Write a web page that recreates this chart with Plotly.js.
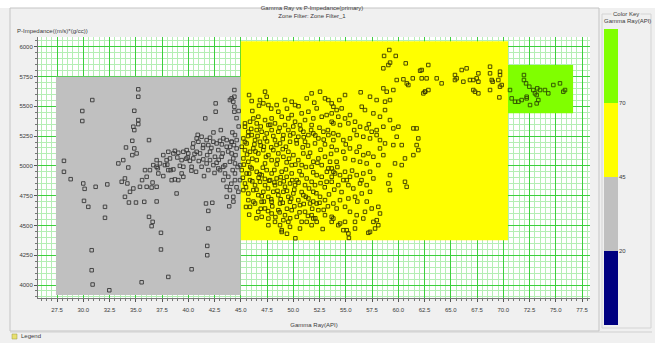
<!DOCTYPE html>
<html>
<head>
<meta charset="utf-8">
<script src="https://cdn.plot.ly/plotly-3.0.1.min.js"></script>
<style>
  html, body { margin: 0; padding: 0; background: #f0f0f0; }
  #chart { width: 655px; height: 343px; }
</style>
</head>
<body>
<div id="chart"></div>
<script>
// Crossplot: Gamma Ray (API) vs P-Impedance, points grouped by Gamma Ray zone.

// [Gamma Ray, P-Impedance] samples, 20-45 API zone
const grayZonePts = [
  [35.24,5642],[35.24,5580],[30.86,5552],[29.91,5460],[29.91,5376],[34.86,5462],[35.24,5384],[35.24,5350],
  [34.77,5328],[34.86,5300],[41.62,5398],[42.61,5524],[42.61,5454],[44.39,5636],[44.39,5580],[43.97,5552],
  [44.39,5496],[44.39,5454],[36.26,5216],[34.67,5210],[34.86,5146],[34.67,5090],[34.07,5154],[33.81,5048],
  [33.34,5020],[34.29,4986],[28.16,5042],[28.16,4950],[28.80,4888],[30.00,4852],[30.13,4807],[31.18,4824],
  [32.29,4844],[30.07,4706],[30.48,4656],[32.07,4656],[32.07,4564],[30.80,4292],[30.80,4124],[30.89,4004],
  [32.48,3956],[35.56,4023],[38.10,4068],[40.32,4132],[41.81,4250],[41.81,4328],[41.91,4474],[41.91,4622],
  [41.69,4684],[42.29,4690],[37.40,4438],[37.40,4298],[36.26,4572],[36.61,4530],[36.51,4494],[33.97,4894],
  [33.66,4866],[34.20,4852],[34.45,4782],[33.97,4740],[34.35,4692],[35.02,4692],[35.81,4698],[36.99,4701],
  [34.77,4810],[35.40,4824],[36.04,4824],[36.51,4818],[36.99,4824],[35.88,4964],[36.04,4908],[36.67,5006],
  [36.99,4992],[37.31,5020],[37.78,5006],[37.15,4936],[37.62,4914],[38.10,4964],[38.32,4964],[38.58,4970],
  [38.42,4880],[38.73,4886],[39.05,4880],[38.89,4768],[39.37,4936],[39.53,4908],[39.53,4992],[39.37,5048],
  [38.96,5070],[38.73,5126],[38.58,5104],[39.05,5110],[39.53,5118],[39.85,5132],[40.00,5104],[39.94,5070],
  [40.16,5042],[40.42,5154],[40.48,5188],[40.80,5230],[40.96,5202],[41.27,5244],[41.43,5174],[41.75,5216],
  [41.91,5174],[42.07,5236],[42.39,5202],[42.70,5188],[43.02,5210],[43.34,5230],[43.66,5216],[43.66,5160],
  [44.13,5202],[40.80,5118],[41.12,5104],[41.43,5054],[41.75,5020],[42.07,5048],[42.39,5006],[42.70,5026],
  [42.86,4978],[43.02,4964],[43.34,4992],[43.50,4936],[43.81,4908],[43.34,4880],[43.66,4824],[43.97,4796],
  [43.66,4740],[44.29,4740],[40.74,4950],[41.27,4992],[41.50,4914],[41.91,4964],[42.07,5118],[42.54,5076],
  [42.86,5132],[43.18,5076],[43.27,5104],[44.13,5104],[44.29,5062],[43.97,5034],[44.45,5020],[44.23,4964],
  [44.45,4936],[44.45,4880],[44.45,5258],[44.61,5216],[44.61,5146],[44.35,5174],[40.48,5062],[40.32,4992],
  [38.26,5062],[37.94,5048],[37.62,5090],[38.10,5118],[36.99,5048],[36.35,4964],[35.08,5104],
  [44.13,5566],[44.29,5538],[44.13,5202],[43.98,5160],[44.93,5006],[44.93,4880],[44.77,4782],
  [39.20,5000],[39.80,5060],[40.30,4960],[40.60,5100],[41.00,5040],[41.40,5150],[41.80,5090],[42.20,5150],
  [42.50,4940],[42.90,5050],[43.20,5180],[43.50,5005],[43.80,5120],[44.10,4850],[44.20,5280],[44.50,5090],
  [44.70,4990],[44.60,4820],[44.30,4700],[43.90,4660],[38.00,5010],[37.10,4980],[36.60,4860],[35.60,4880],
  [40.90,5260],[42.40,5280],[43.10,5300],[44.80,5330],[44.60,5400],[44.80,5460]
];

// [Gamma Ray, P-Impedance] samples, 45-70 API zone
const yellowZonePts = [
  [47.31,5622],[47.47,5580],[46.83,5552],[47.15,5524],[45.79,5594],[46.04,5544],[48.42,5510],[49.21,5552],
  [49.85,5538],[50.17,5510],[51.28,5566],[51.75,5608],[52.55,5622],[53.02,5566],[53.34,5552],[53.66,5524],
  [47.63,5510],[46.74,5505],[52.23,5482],[51.44,5454],[50.80,5440],[49.85,5426],[49.53,5398],[48.58,5454],
  [48.90,5412],[47.94,5398],[47.31,5384],[46.67,5412],[46.20,5398],[45.88,5370],[45.40,5356],[46.52,5356],
  [47.63,5342],[48.26,5356],[50.17,5370],[51.12,5384],[51.91,5398],[52.71,5412],[53.18,5426],[53.66,5370],
  [51.75,5342],[50.64,5342],[49.21,5342],[45.40,5328],[45.72,5286],[46.04,5258],[46.52,5300],[46.99,5286],
  [47.47,5272],[47.94,5300],[48.58,5286],[49.06,5258],[49.53,5300],[50.01,5272],[50.48,5244],[50.96,5286],
  [51.44,5258],[51.91,5272],[52.39,5230],[52.87,5286],[53.34,5258],[53.82,5216],[45.25,5230],[45.56,5188],
  [46.36,5216],[46.83,5202],[47.31,5230],[48.26,5216],[48.74,5188],[49.69,5202],[50.33,5188],[51.12,5202],
  [52.07,5188],[53.02,5180],[45.09,5160],[45.40,5132],[45.88,5118],[46.20,5146],[46.67,5104],[47.15,5132],
  [47.63,5090],[48.10,5132],[48.58,5104],[49.06,5076],[49.53,5118],[50.01,5090],[50.48,5048],[50.96,5104],
  [51.44,5076],[51.91,5034],[52.39,5062],[53.02,5076],[53.50,5034],[45.25,5062],[45.72,5034],[46.52,5048],
  [47.31,5020],[47.94,5048],[48.42,5012],[49.37,5029],[49.85,5006],[50.80,5006],[51.75,4992],[52.71,5006],
  [53.34,4978],[53.82,4950],[45.09,4964],[45.56,4936],[46.04,4978],[46.52,4950],[46.99,4922],[47.47,4964],
  [47.94,4936],[48.42,4894],[48.90,4950],[49.37,4908],[49.85,4936],[50.33,4880],[50.80,4922],[51.28,4894],
  [51.75,4866],[52.23,4922],[52.71,4908],[45.40,4852],[45.88,4880],[46.36,4838],[46.83,4866],[47.31,4838],
  [47.79,4880],[48.26,4838],[48.74,4852],[49.21,4824],[49.69,4852],[50.17,4838],[51.12,4838],[52.07,4838],
  [53.18,4866],[53.66,4908],[45.25,4796],[45.72,4768],[46.20,4796],[46.67,4754],[47.15,4782],[47.63,4740],
  [48.10,4782],[48.58,4754],[49.06,4782],[49.53,4740],[50.01,4768],[50.48,4712],[50.96,4754],[51.44,4726],
  [51.91,4782],[52.55,4740],[45.72,4712],[46.36,4684],[46.99,4698],[47.94,4698],[48.74,4684],[49.69,4698],
  [50.64,4670],[51.60,4684],[52.23,4684],[53.02,4712],[45.88,4656],[46.67,4614],[47.31,4642],[47.94,4600],
  [48.58,4628],[49.21,4586],[49.85,4628],[50.33,4572],[51.12,4614],[51.75,4586],[52.39,4628],[53.02,4586],
  [47.63,4558],[48.26,4530],[49.06,4544],[49.53,4530],[50.80,4530],[51.91,4558],[46.99,4572],[53.66,4572],
  [47.63,4502],[48.74,4502],[49.69,4488],[50.64,4474],[51.28,4530],[52.23,4530],[48.90,4460],[51.75,4502],
  [53.66,4530],
  [56.42,5617],[58.58,5650],[58.90,5622],[59.53,5636],[60.96,5678],[62.55,5622],[62.87,5636],[54.93,5594],
  [54.39,5552],[57.31,5580],[57.94,5552],[58.74,5538],[59.21,5552],[53.82,5496],[54.13,5468],[54.61,5482],
  [53.66,5440],[54.29,5412],[54.93,5398],[55.40,5426],[56.52,5496],[56.83,5468],[57.63,5440],[58.26,5412],
  [58.74,5468],[53.82,5356],[54.45,5342],[55.25,5356],[55.88,5370],[56.36,5328],[56.99,5314],[57.47,5286],
  [57.94,5300],[58.58,5328],[59.21,5384],[59.53,5314],[60.01,5328],[61.44,5314],[61.75,5314],[61.91,5230],
  [59.85,5244],[60.33,5174],[59.53,5174],[61.75,5174],[61.91,5132],[61.44,5090],[60.64,5062],[60.33,5006],
  [59.69,5020],[59.21,4922],[59.06,4852],[59.21,4796],[60.64,4866],[60.80,4824],[53.82,5272],[54.29,5258],
  [54.77,5216],[55.40,5230],[56.04,5258],[56.67,5244],[57.31,5230],[57.94,5258],[58.26,5216],[58.74,5188],
  [53.66,5160],[54.13,5132],[54.77,5118],[55.40,5146],[56.04,5118],[56.67,5090],[57.15,5104],[57.63,5076],
  [58.26,5146],[58.58,5090],[58.10,5006],[56.99,5020],[56.36,5034],[55.72,5048],[54.93,5062],[54.13,5034],
  [53.66,4978],[53.98,4936],[54.45,4922],[54.93,4950],[55.40,4908],[56.04,4922],[56.67,4936],[57.31,4950],
  [57.63,4894],[53.66,4866],[54.29,4838],[54.77,4880],[55.25,4838],[55.72,4810],[56.36,4852],[56.99,4838],
  [57.31,4782],[56.52,4768],[55.88,4740],[55.25,4726],[54.45,4712],[53.82,4684],[54.13,4642],[54.93,4656],
  [55.40,4614],[56.04,4586],[56.83,4614],[57.47,4642],[58.10,4656],[58.26,4600],[57.63,4530],[56.67,4558],
  [55.88,4530],[54.93,4530],[54.29,4502],[53.82,4558],[54.77,4460],[55.88,4474],[57.31,4446],[58.10,4502],
  [48.90,4445],[49.40,4430],[50.20,4392],[52.80,4470],[54.46,4516],[55.09,4460],[55.25,4432],[57.15,4438],
  [57.79,4474],[57.95,4544],[55.30,4395],
  [59.15,5972],[58.65,5922],[59.76,5922],[59.22,5866],[59.06,5846],[58.58,5818],[60.71,5860],[62.08,5798],
  [61.38,5734],[60.49,5726],[59.85,5720],[60.81,5692],[62.23,5734],
  [62.86,5846],[62.23,5804],[62.70,5734],[63.66,5734],[64.13,5692],[62.55,5622],[62.39,5608],[65.40,5762],
  [65.56,5734],[66.04,5804],[66.51,5818],[65.40,5720],[66.20,5706],[66.83,5720],[67.15,5720],[67.63,5776],
  [67.47,5734],[67.63,5706],[68.74,5832],[68.74,5776],[68.90,5720],[68.99,5706],[69.69,5790],[69.69,5762],
  [69.53,5720],[67.15,5636],[67.31,5622],[67.63,5608],[68.74,5636],[69.69,5664],[69.85,5678],[69.63,5574],
  // densest core of the cloud
  [45.30,5010],[45.60,5095],[45.90,4990],[46.10,5060],[46.40,5120],[46.70,4900],[46.90,5170],[47.10,4985],
  [47.40,5075],[47.70,4875],[47.90,5155],[48.20,4965],[48.50,5050],[48.80,4905],[49.00,5140],[49.30,4970],
  [49.60,5060],[49.90,4880],[50.20,5010],[50.60,4955],[50.90,5155],[51.20,4990],[51.60,5110],[51.90,4945],
  [52.30,5025],[52.60,5135],[45.20,4900],[45.50,4820],[45.80,4935],[46.10,4870],[46.50,4800],[46.80,4930],
  [47.00,4745],[47.30,4890],[47.60,4810],[47.90,4720],[48.20,4860],[48.50,4790],[48.80,4720],[49.10,4870],
  [49.40,4790],[49.80,4725],[50.10,4800],[50.50,4860],[50.80,4780],[51.20,4740],[51.50,4810],[51.90,4700],
  [52.20,4770],[52.60,4855],[45.40,5200],[45.70,5250],[46.00,5310],[46.30,5180],[46.60,5250],[46.90,5330],
  [47.20,5160],[47.50,5205],[47.80,5345],[48.10,5250],[48.40,5175],[48.70,5320],[49.00,5225],[49.30,5160],
  [49.70,5255],[50.00,5330],[50.30,5215],[50.70,5305],[51.00,5240],[51.40,5170],[51.70,5300],[52.10,5255],
  [52.50,5320],[52.90,5220],[53.30,5300],[45.50,4655],[45.80,4590],[46.20,4700],[46.50,4560],[46.90,4640],
  [47.20,4700],[47.60,4620],[48.00,4660],[48.30,4570],[48.70,4610],[49.00,4690],[49.40,4640],[49.70,4560],
  [50.10,4660],[50.60,4610],[51.00,4680],[51.40,4580],[51.80,4640],[52.10,4560],[52.50,4690],[52.90,4630],
  [53.30,4660],[53.00,4820],[53.40,4760],[53.90,4800],[53.20,4950],[53.60,5100],[54.20,4990],[54.60,4780],
  [55.10,4880],[55.60,4960],[56.10,4700],[56.50,4880],[57.00,4700],[55.00,5180],[55.80,5300],[56.30,5160],
  [57.20,5350],[46.10,5460],[47.90,5480],[49.40,5480],[50.50,5500],[52.00,5530]
];

// [Gamma Ray, P-Impedance] samples, above 70 API
const greenZonePts = [
  [70.64,5636],[70.80,5566],[71.12,5538],[71.44,5538],[71.75,5552],[72.23,5566],[71.97,5762],[71.97,5720],
  [72.17,5692],[72.48,5664],[72.86,5636],[73.02,5608],[73.24,5650],[73.50,5636],[73.97,5636],[74.29,5608],
  [74.77,5678],[75.40,5692],[75.72,5622],[75.88,5636],[73.18,5594],[72.55,5510],[73.18,5524],[73.34,5552],
  [72.23,5580]
];

// Zone filter boxes: Gamma Ray extent and P-Impedance extent of each zone
const zoneGR = [[27.4, 45.0], [45.0, 70.45], [70.45, 76.65]];
const zonePI = [[3916, 5748], [4375, 6045], [5441, 5846]];
const zoneFill = ['#c0c0c0', '#ffff00', '#80ff00'];
const zoneMarkerLine = ['#383838', '#383800', '#2c4a00'];

// Color key: Gamma Ray class breaks and colors
const keyBreaks = [-5, 20, 45, 70, 95];
const keyColors = ['#000080', '#c0c0c0', '#ffff00', '#80ff00'];
const keyLabels = ['20', '45', '70'];

const FONT = 'Liberation Sans, Arial, sans-serif';
const TXT = '#3a3a3a';

// pixel -> paper helpers for the frame decorations (plot area: l=38, r=5, t=29, b=18)
const W = 655, H = 343, L = 38, R = 5, T = 29, B = 18;
const PW = W - L - R, PH = H - T - B;
const fx = px => (px - L) / PW;
const fy = py => (H - B - py) / PH;

const traces = [];

// zone boxes first, so the grid stays hidden beneath them
zoneGR.forEach((gr, i) => {
  const pi = zonePI[i];
  traces.push({
    type: 'scatter', mode: 'lines',
    x: [gr[0], gr[1], gr[1], gr[0], gr[0]],
    y: [pi[0], pi[0], pi[1], pi[1], pi[0]],
    fill: 'toself', fillcolor: zoneFill[i],
    line: { width: 0, color: zoneFill[i] },
    hoverinfo: 'skip', showlegend: false
  });
});

[grayZonePts, yellowZonePts, greenZonePts].forEach((pts, i) => {
  traces.push({
    type: 'scatter', mode: 'markers',
    x: pts.map(p => p[0]), y: pts.map(p => p[1]),
    marker: { symbol: 'square-open', size: 3.5, color: zoneMarkerLine[i], line: { width: 0.9 } },
    showlegend: false
  });
});

// color key bar
traces.push({
  type: 'bar', xaxis: 'x2', yaxis: 'y2',
  x: keyColors.map(() => 0),
  base: keyBreaks.slice(0, -1),
  y: keyBreaks.slice(1).map((b, i) => b - keyBreaks[i]),
  width: 1,
  marker: { color: keyColors, line: { width: 0 } },
  hoverinfo: 'skip', showlegend: false
});

const shapes = [
  // white strip above the panel
  { type: 'rect', xref: 'paper', yref: 'paper', x0: fx(0), x1: fx(655), y0: fy(0), y1: fy(8),
    fillcolor: '#ffffff', line: { width: 0 }, layer: 'below' },
  // chart panel frame
  { type: 'rect', xref: 'paper', yref: 'paper', x0: fx(10), x1: fx(599), y0: fy(331), y1: fy(8),
    line: { color: '#c4c4c4', width: 1 }, layer: 'below' },
  // color key group box
  { type: 'rect', xref: 'paper', yref: 'paper', x0: fx(602), x1: fx(651), y0: fy(328), y1: fy(14),
    line: { color: '#d4d4d4', width: 1 }, layer: 'below' },
  // legend strip separator
  { type: 'line', xref: 'paper', yref: 'paper', x0: fx(10), x1: fx(652), y0: fy(332), y1: fy(332),
    line: { color: '#d0d0d0', width: 1 } },
  // legend icon
  { type: 'rect', xref: 'paper', yref: 'paper', x0: fx(12), x1: fx(17), y0: fy(339), y1: fy(334),
    fillcolor: '#e8e070', line: { color: '#9a9a40', width: 0.5 } }
];

const annotations = [
  { text: 'P-Impedance((m/s)*(g/cc))', xref: 'paper', yref: 'paper', x: fx(15), y: fy(31),
    xanchor: 'left', yanchor: 'middle', showarrow: false, font: { family: FONT, size: 6, color: TXT } },
  { text: 'Color Key', xref: 'paper', yref: 'paper', x: fx(626), y: fy(14),
    xanchor: 'center', yanchor: 'middle', showarrow: false, bgcolor: '#f0f0f0',
    font: { family: FONT, size: 6, color: TXT } },
  { text: 'Gamma Ray(API)', xref: 'paper', yref: 'paper', x: fx(627), y: fy(21),
    xanchor: 'center', yanchor: 'middle', showarrow: false, font: { family: FONT, size: 6, color: TXT } },
  { text: 'Legend', xref: 'paper', yref: 'paper', x: fx(19), y: fy(336),
    xanchor: 'left', yanchor: 'middle', showarrow: false, font: { family: FONT, size: 6, color: TXT } }
];

const layout = {
  width: W, height: H,
  margin: { l: L, r: R, t: T, b: B, pad: 0 },
  paper_bgcolor: '#f0f0f0',
  plot_bgcolor: '#ffffff',
  showlegend: false,
  title: {
    text: 'Gamma Ray vs P-Impedance(primary)<br>Zone Filter: Zone Filter_1',
    x: 312 / W, xref: 'container', xanchor: 'center',
    y: 1 - 10 / H, yref: 'container', yanchor: 'top',
    font: { family: FONT, size: 6, color: TXT }
  },
  xaxis: {
    domain: [0, 552 / PW],
    range: [25.69, 78.26],
    tickmode: 'linear', tick0: 27.5, dtick: 2.5, tickformat: '.1f',
    ticks: 'outside', ticklen: 3, tickcolor: '#555', tickwidth: 1,
    ticklabelstandoff: 3,
    showline: true, linecolor: '#777', linewidth: 1,
    showgrid: true, gridcolor: '#3ccf3c', gridwidth: 1,
    zeroline: false,
    minor: { dtick: 0.5, showgrid: true, gridcolor: '#b4eeb4', gridwidth: 1, ticks: 'outside', ticklen: 2, tickcolor: '#777' },
    tickfont: { family: FONT, size: 6, color: TXT },
    title: { text: 'Gamma Ray(API)', standoff: 10, font: { family: FONT, size: 6, color: TXT } }
  },
  yaxis: {
    domain: [fy(298), fy(37)],
    range: [3891, 6081],
    tickmode: 'linear', tick0: 4000, dtick: 250,
    ticks: 'outside', ticklen: 3, tickcolor: '#555', tickwidth: 1,
    showline: true, linecolor: '#777', linewidth: 1,
    showgrid: true, gridcolor: '#3ccf3c', gridwidth: 1,
    zeroline: false,
    minor: { dtick: 50, showgrid: true, gridcolor: '#b4eeb4', gridwidth: 1, ticks: 'outside', ticklen: 2, tickcolor: '#777' },
    tickfont: { family: FONT, size: 6, color: TXT }
  },
  xaxis2: {
    domain: [fx(604), fx(618)], anchor: 'y2',
    range: [-0.5, 0.5], visible: false, fixedrange: true
  },
  yaxis2: {
    domain: [fy(325), fy(29)], anchor: 'x2', side: 'right',
    range: [keyBreaks[0], keyBreaks[keyBreaks.length - 1]],
    tickmode: 'array', tickvals: keyBreaks.slice(1, -1), ticktext: keyLabels,
    ticks: '', showgrid: false, zeroline: false, showline: false,
    tickfont: { family: FONT, size: 6, color: TXT }, fixedrange: true
  },
  barmode: 'overlay',
  shapes: shapes,
  annotations: annotations
};

Plotly.newPlot('chart', traces, layout, { displayModeBar: false, staticPlot: true });
</script>
</body>
</html>
